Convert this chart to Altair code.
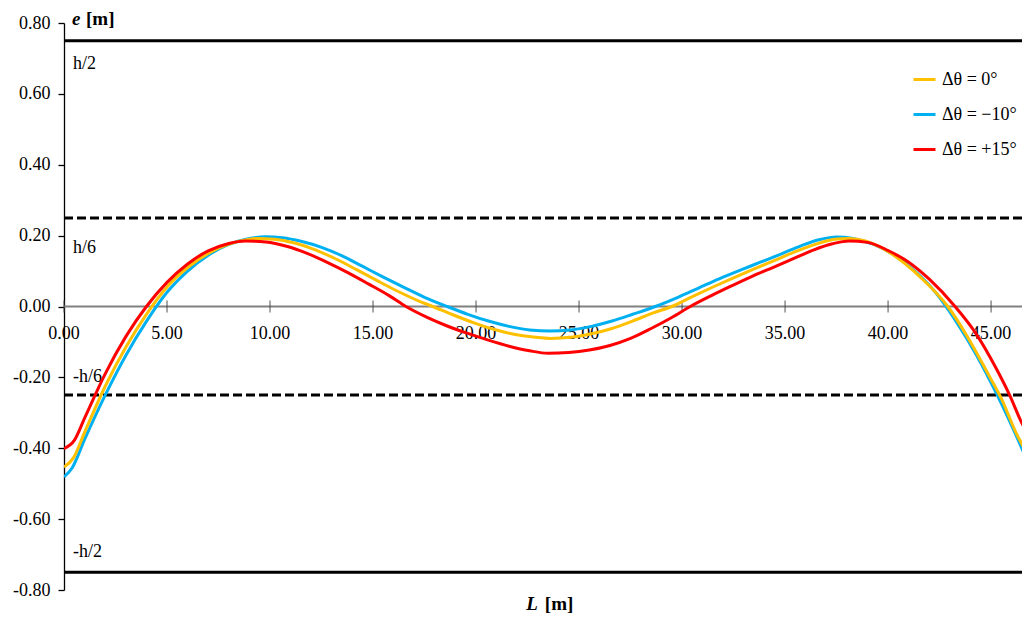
import altair as alt
import pandas as pd

# ---------------- data ----------------
SERIES = ["Δθ = 0°", "Δθ = −10°", "Δθ = +15°"]
COLORS = ["#FFC000", "#00B0F0", "#FF0000"]

x_blue = [0, 0.4, 1.0, 2.0, 3.0, 4.0, 5.0, 6.0, 7.0, 8.0, 9.0, 9.8, 10.6, 11.5, 12.5, 13.5, 14.5,
          15.5, 16.5, 17.5, 18.6, 19.6, 20.6, 21.6, 22.6, 23.6, 24.6, 25.6, 26.6, 27.6, 28.7,
          29.8, 30.8, 31.8, 32.8, 33.8, 34.8, 35.8, 36.7, 37.5, 38.3, 39.3, 40.3, 41.3, 42.3,
          43.3, 44.3, 45.3, 46.3, 46.9]
y_blue = [-0.481, -0.455, -0.375, -0.250, -0.138, -0.042, 0.040, 0.100, 0.145, 0.175, 0.192,
          0.197, 0.194, 0.184, 0.167, 0.143, 0.113, 0.083, 0.054, 0.026, 0.000, -0.022, -0.041,
          -0.056, -0.066, -0.069, -0.066, -0.056, -0.041, -0.022, 0.000, 0.026, 0.052, 0.078,
          0.102, 0.125, 0.148, 0.172, 0.189, 0.196, 0.192, 0.175, 0.145, 0.100, 0.040, -0.042,
          -0.138, -0.250, -0.375, -0.455]

x_yellow = [0, 0.45, 1.0, 2.0, 3.0, 4.0, 5.0, 6.0, 7.0, 8.0, 9.0, 9.4, 10.2, 11.2, 12.2, 13.2,
            14.2, 15.2, 16.2, 17.2, 17.9, 18.9, 19.9, 20.9, 21.9, 22.9, 23.6, 24.6, 25.6, 26.6,
            27.6, 28.6, 29.5, 30.5, 31.5, 32.5, 33.5, 34.5, 35.5, 36.5, 37.4, 38.1, 38.9, 39.8,
            40.8, 41.8, 42.9, 43.9, 44.9, 45.5, 46.2, 46.9]
y_yellow = [-0.453, -0.428, -0.355, -0.225, -0.115, -0.022, 0.055, 0.110, 0.150, 0.176, 0.190,
            0.192, 0.190, 0.179, 0.160, 0.134, 0.104, 0.073, 0.043, 0.016, 0.000, -0.024, -0.046,
            -0.065, -0.079, -0.087, -0.090, -0.087, -0.077, -0.062, -0.041, -0.018, 0.000, 0.028,
            0.055, 0.081, 0.106, 0.130, 0.155, 0.176, 0.190, 0.192, 0.185, 0.162, 0.122, 0.070,
            0.000, -0.090, -0.195, -0.260, -0.355, -0.430]

x_red = [0, 0.5, 1.0, 2.0, 3.0, 4.0, 5.0, 6.0, 7.0, 8.0, 8.8, 9.8, 10.8, 11.8, 12.8, 13.8, 14.8,
         15.8, 16.6, 17.6, 18.6, 19.6, 20.6, 21.6, 22.6, 23.5, 24.5, 25.5, 26.5, 27.5, 28.5,
         29.5, 30.4, 31.4, 32.4, 33.4, 34.4, 35.4, 36.4, 37.3, 38.1, 39.0, 40.0, 41.0, 42.0,
         43.25, 44.25, 45.25, 45.9, 46.5, 46.9]
y_red = [-0.401, -0.378, -0.315, -0.190, -0.085, 0.000, 0.068, 0.120, 0.157, 0.178, 0.185,
         0.182, 0.170, 0.150, 0.124, 0.095, 0.063, 0.030, 0.000, -0.030, -0.055, -0.076, -0.095,
         -0.112, -0.125, -0.132, -0.130, -0.123, -0.110, -0.090, -0.062, -0.031, 0.000, 0.030,
         0.058, 0.085, 0.110, 0.135, 0.160, 0.177, 0.185, 0.181, 0.158, 0.125, 0.077,
         0.000, -0.075, -0.175, -0.250, -0.330, -0.372]

X_TICKS = [0, 5, 10, 15, 20, 25, 30, 35, 40, 45]
Y_TICKS = [-0.8, -0.6, -0.4, -0.2, 0.0, 0.2, 0.4, 0.6, 0.8]
X_MAX = 46.5

LIMIT_VALUES = [0.75, 0.25, -0.25, -0.75]
LIMIT_STYLES = ["solid", "dashed", "dashed", "solid"]
LIMIT_LABELS = ["h/2", "h/6", "-h/6", "-h/2"]
LIMIT_LABEL_Y = [0.683, 0.165, -0.200, -0.694]

# ---------------- tables ----------------
rows = []
for name, xs, ys in [(SERIES[1], x_blue, y_blue), (SERIES[0], x_yellow, y_yellow), (SERIES[2], x_red, y_red)]:
    for i, (a, b) in enumerate(zip(xs, ys)):
        rows.append({"series": name, "L": a, "e": b, "i": i})
curves = pd.DataFrame(rows)

limits = pd.DataFrame({"v": LIMIT_VALUES, "style": LIMIT_STYLES, "x0": 0.0, "x1": X_MAX})
limit_labels = pd.DataFrame({"label": LIMIT_LABELS, "y": LIMIT_LABEL_Y, "x": 0.0})
xticks = pd.DataFrame({"t": X_TICKS, "y": 0.0})
zero = pd.DataFrame({"x0": [0.0], "x1": [X_MAX], "y": [0.0]})
ytitle = pd.DataFrame({"x": [0.0], "y": [0.8]})
xtitle = pd.DataFrame({"x": [23.0]})

W, H = 958, 567
FONT = "Liberation Serif"

xscale = alt.Scale(domain=[0, X_MAX], nice=False, zero=False)
yscale = alt.Scale(domain=[-0.8, 0.8], nice=False)

X = alt.X("L:Q", scale=xscale, axis=None)

base_y_axis = alt.Axis(
    values=Y_TICKS, labelExpr="(datum.value < 0 ? '-' : '') + format(abs(datum.value), '.2f')",
    title=None, grid=False, domainColor="#000000", domainWidth=1.3, tickColor="#000000",
    tickWidth=1.3, tickSize=6, labelPadding=8, labelFont=FONT, labelFontSize=18,
    labelColor="#000000",
)

zero_rule = alt.Chart(zero).mark_rule(color="#808080", strokeWidth=2).encode(
    x=alt.X("x0:Q", scale=xscale, axis=None), x2="x1:Q",
    y=alt.Y("y:Q", scale=yscale, axis=base_y_axis),
)

tick_marks = alt.Chart(xticks).mark_tick(color="#404040", thickness=1.3, size=12, orient="vertical").encode(
    x=alt.X("t:Q", scale=xscale, axis=None), y=alt.Y("y:Q", scale=yscale),
)

tick_labels = alt.Chart(xticks).mark_text(font=FONT, fontSize=18, color="#000000", dy=27, baseline="middle").encode(
    x=alt.X("t:Q", scale=xscale, axis=None), y=alt.Y("y:Q", scale=yscale),
    text=alt.Text("t:Q", format=".2f"),
)

limit_rules = alt.Chart(limits).mark_rule(color="#000000", strokeWidth=3).encode(
    x=alt.X("x0:Q", scale=xscale, axis=None), x2="x1:Q",
    y=alt.Y("v:Q", scale=yscale),
    strokeDash=alt.StrokeDash("style:N", scale=alt.Scale(domain=["solid", "dashed"], range=[[1, 0], [9, 4]]), legend=None),
)

limit_text = alt.Chart(limit_labels).mark_text(font=FONT, fontSize=18, color="#000000", align="left", dx=9, baseline="middle").encode(
    x=alt.X("x:Q", scale=xscale, axis=None), y=alt.Y("y:Q", scale=yscale), text="label:N",
)

lines = alt.Chart(curves).mark_line(strokeWidth=3, interpolate="monotone", clip=True).encode(
    x=X, y=alt.Y("e:Q", scale=yscale),
    color=alt.Color("series:N", scale=alt.Scale(domain=SERIES, range=COLORS),
                    legend=alt.Legend(title=None, orient="none", legendX=848, legendY=44,
                                      symbolType="stroke", symbolSize=484, symbolStrokeWidth=3,
                                      labelFont=FONT, labelFontSize=18, labelColor="#000000",
                                      labelOffset=5, rowPadding=13, padding=0)),
    order="i:Q",
)

y_title_e = alt.Chart(ytitle).mark_text(text="e", font=FONT, fontSize=19, fontStyle="italic", fontWeight="bold",
                                        align="left", baseline="middle", dx=8, dy=-4, color="#000000").encode(
    x=alt.X("x:Q", scale=xscale, axis=None), y=alt.Y("y:Q", scale=yscale))
y_title_m = alt.Chart(ytitle).mark_text(text="[m]", font=FONT, fontSize=19, fontWeight="bold",
                                        align="left", baseline="middle", dx=22, dy=-4, color="#000000").encode(
    x=alt.X("x:Q", scale=xscale, axis=None), y=alt.Y("y:Q", scale=yscale))

x_title_L = alt.Chart(xtitle).mark_text(text="L", font=FONT, fontSize=19, fontStyle="italic", fontWeight="bold",
                                        align="right", baseline="middle", color="#000000").encode(
    x=alt.X("x:Q", scale=xscale, axis=None), y=alt.value(H + 14))
x_title_m = alt.Chart(xtitle).mark_text(text="[m]", font=FONT, fontSize=19, fontWeight="bold",
                                        align="left", baseline="middle", dx=7, color="#000000").encode(
    x=alt.X("x:Q", scale=xscale, axis=None), y=alt.value(H + 14))

chart = alt.layer(
    zero_rule, tick_marks, tick_labels, limit_rules, limit_text, lines,
    y_title_e, y_title_m, x_title_L, x_title_m,
).properties(
    width=W, height=H,
    padding={"left": 56, "top": 15, "right": 0, "bottom": 26},
    autosize=alt.AutoSizeParams(type="none"),
).configure_view(strokeWidth=0)

chart.save("out.html", embed_options={"renderer": "svg", "actions": False})
